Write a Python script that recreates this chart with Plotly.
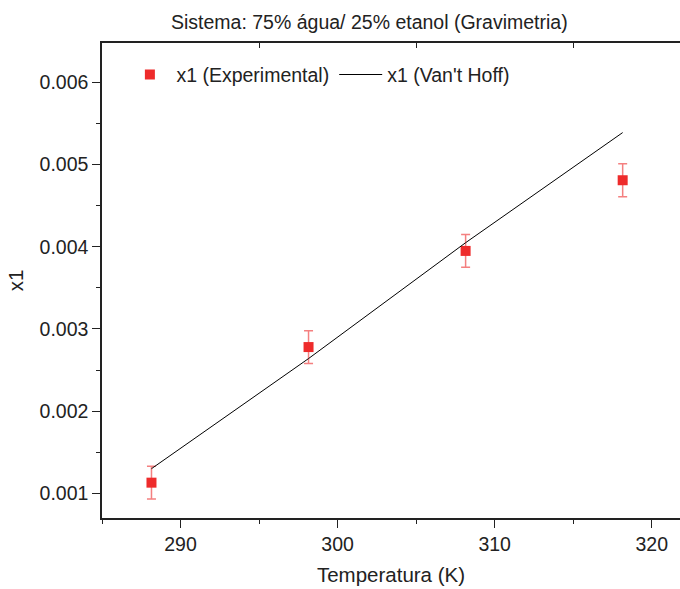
import plotly.graph_objects as go

# Data
temperatura = [288.15, 298.15, 308.15, 318.15]
x1_exp = [0.00113, 0.00278, 0.00395, 0.00481]
x1_err = [0.0002, 0.0002, 0.0002, 0.0002]
x1_vanthoff = [0.00130, 0.00264, 0.00405, 0.00539]

x_ticks = [290, 300, 310, 320]
y_ticks = [0.001, 0.002, 0.003, 0.004, 0.005, 0.006]
top_ticks = [295, 305, 315]

FONT = "Liberation Sans, Arial, sans-serif"
TXT = "#222222"

fig = go.Figure()
fig.add_trace(go.Scatter(
    x=temperatura, y=x1_exp, mode="markers", name="x1 (Experimental)",
    marker=dict(symbol="square", size=10, color="#EE2B2B"),
    error_y=dict(type="data", array=x1_err, visible=True,
                 color="rgba(238,60,60,0.65)", thickness=1.5, width=4.5),
))
fig.add_trace(go.Scatter(
    x=temperatura, y=x1_vanthoff, mode="lines", name="x1 (Van't Hoff)",
    line=dict(color="black", width=1),
))
# invisible helper trace for the top axis
fig.add_trace(go.Scatter(x=[temperatura[0]], y=[x1_exp[0]], xaxis="x2",
                         mode="markers", marker=dict(opacity=0),
                         showlegend=False, hoverinfo="skip"))

xr = [285, 321.8]
fig.update_layout(
    width=680, height=589,
    margin=dict(l=102, r=0, t=43, b=71),
    paper_bgcolor="white", plot_bgcolor="white",
    font=dict(family=FONT, size=20, color=TXT),
    showlegend=True,
    legend=dict(orientation="h", x=0.037, y=0.933, xanchor="left", yanchor="middle",
                bgcolor="rgba(0,0,0,0)", font=dict(size=19.5, color=TXT),
                itemwidth=43, traceorder="normal"),
    xaxis=dict(range=xr, tickvals=x_ticks, ticks="outside", ticklen=8, tickwidth=1.3,
               tickcolor="#222", showline=True, linecolor="#222", linewidth=1.5,
               showgrid=False, zeroline=False,
               minor=dict(dtick=5, tick0=285, ticks="outside", ticklen=4, tickcolor="#222", tickwidth=1.3),
               title=dict(text="Temperatura (K)", font=dict(size=20.5), standoff=13),
               tickfont=dict(size=19.5)),
    xaxis2=dict(range=xr, overlaying="x", side="top", tickvals=top_ticks, ticks="inside",
                ticklen=5, tickwidth=1.3, tickcolor="#222", showticklabels=False,
                showline=True, linecolor="#222", linewidth=1.5, showgrid=False, zeroline=False),
    yaxis=dict(range=[0.0007, 0.00648], tickvals=y_ticks, tickformat=".3f",
               ticks="outside", ticklen=8, tickwidth=1.3, tickcolor="#222",
               showline=True, linecolor="#222", linewidth=1.5, showgrid=False, zeroline=False,
               minor=dict(dtick=0.0005, tick0=0, ticks="outside", ticklen=4, tickcolor="#222", tickwidth=1.3),
               title=dict(text="x1", font=dict(size=20.5), standoff=10),
               tickfont=dict(size=19.5)),
    annotations=[dict(text="Sistema: 75% água/ 25% etanol (Gravimetria)", xref="paper", yref="paper",
                      x=0.463, y=1.0, yshift=21, xanchor="center", yanchor="middle",
                      showarrow=False, font=dict(size=19.5, color=TXT))],
)

fig.write_html("out.html")
